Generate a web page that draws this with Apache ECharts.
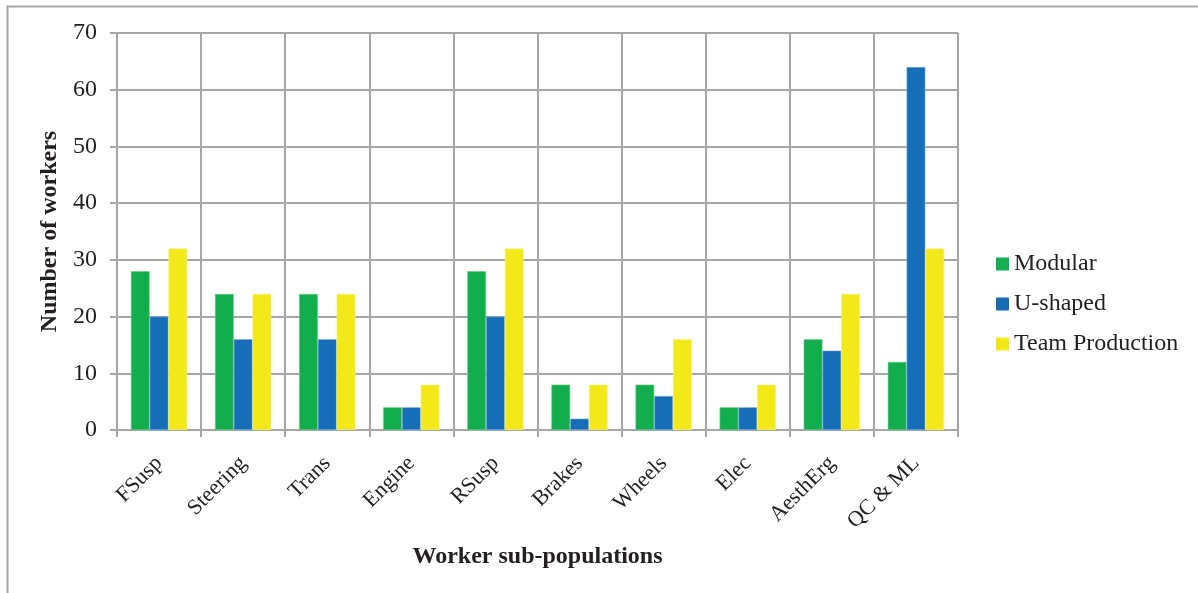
<!DOCTYPE html>
<html>
<head>
<meta charset="utf-8">
<script src="https://cdn.jsdelivr.net/npm/echarts@6/dist/echarts.min.js"></script>
<style>
html,body{margin:0;padding:0;background:#fff;}
#chart{width:1198px;height:593px;}
</style>
</head>
<body>
<div id="chart"></div>
<script>
var categories = ['FSusp','Steering','Trans','Engine','RSusp','Brakes','Wheels','Elec','AesthErg','QC & ML'];
var modular = [28,24,24,4,28,8,8,4,16,12];
var ushaped = [20,16,16,4,20,2,6,4,14,64];
var teamProd = [32,24,24,8,32,8,16,8,24,32];
var yTicks = [0,10,20,30,40,50,60,70];

var serif = '"Liberation Serif", "DejaVu Serif", serif';
var myChart = echarts.init(document.getElementById('chart'));
var option = {
    animation: false,
    textStyle: { fontFamily: serif },
    graphic: [
        { type: 'polyline', shape: { points: [[7.5, 600], [7.5, 6.5], [1198, 6.5]] },
          style: { stroke: '#a6a6a6', lineWidth: 2, fill: null } }
    ],
    legend: {
        orient: 'vertical',
        left: 991,
        top: 247,
        itemWidth: 13,
        itemHeight: 13,
        itemGap: 16,
        icon: 'rect',
        itemStyle: { borderWidth: 0 },
        textStyle: { fontFamily: serif, fontSize: 24, color: '#231f20' },
        data: ['Modular','U-shaped','Team Production']
    },
    grid: { left: 117, right: 240, top: 33, bottom: 163 },
    xAxis: {
        type: 'category',
        data: categories,
        name: 'Worker sub-populations',
        nameLocation: 'middle',
        nameGap: 115,
        nameTextStyle: { fontFamily: serif, fontSize: 24, fontWeight: 'bold', color: '#231f20' },
        axisLine: { lineStyle: { color: '#a6a6a6', width: 2 } },
        axisTick: { show: true, length: 7, lineStyle: { color: '#a6a6a6', width: 2 } },
        splitLine: { show: true, lineStyle: { color: '#a6a6a6', width: 2 } },
        axisLabel: { rotate: 45, fontFamily: serif, fontSize: 22, color: '#231f20', margin: 30 }
    },
    yAxis: {
        type: 'value',
        min: 0,
        max: 70,
        interval: 10,
        name: 'Number of workers',
        nameLocation: 'middle',
        nameGap: 49,
        nameTextStyle: { fontFamily: serif, fontSize: 24, fontWeight: 'bold', color: '#231f20' },
        axisLine: { show: true, lineStyle: { color: '#a6a6a6', width: 2 } },
        axisTick: { show: true, length: 7, lineStyle: { color: '#a6a6a6', width: 2 } },
        splitLine: { show: true, lineStyle: { color: '#a6a6a6', width: 2 } },
        axisLabel: {
            fontFamily: serif, fontSize: 24, color: '#231f20', margin: 20,
            formatter: function (v) { return yTicks.indexOf(v) >= 0 ? String(v) : ''; }
        }
    },
    series: [
        { name: 'Modular', type: 'bar', data: modular, barGap: '0%', barCategoryGap: '33%',
          itemStyle: { color: '#12ae4d', borderColor: '#6fd08f', borderWidth: 0.6 } },
        { name: 'U-shaped', type: 'bar', data: ushaped, barGap: '0%', barCategoryGap: '33%',
          itemStyle: { color: '#166db8', borderColor: '#7fb0de', borderWidth: 0.6 } },
        { name: 'Team Production', type: 'bar', data: teamProd, barGap: '0%', barCategoryGap: '33%',
          itemStyle: { color: '#f3e81a', borderColor: '#f8f08a', borderWidth: 0.6 } }
    ]
};
myChart.setOption(option);
</script>
</body>
</html>
